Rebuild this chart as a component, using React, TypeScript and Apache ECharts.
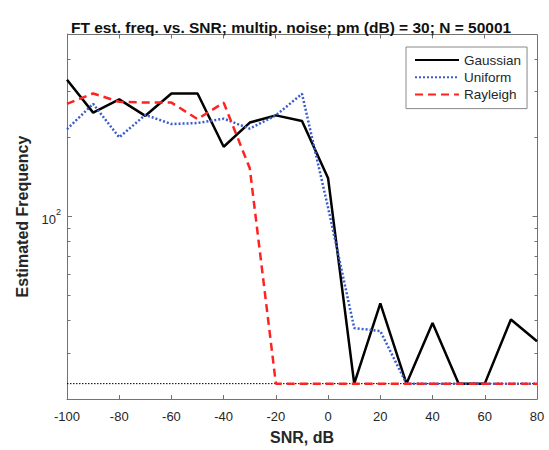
import React, { useEffect, useRef } from 'react';
import * as echarts from 'echarts';

const snr = [-100, -90, -80, -70, -60, -50, -40, -30, -20, -10, 0, 10, 20, 30, 40, 50, 60, 70, 80];
const gaussian = [334, 250, 281, 243, 296, 296, 185, 229, 244, 232, 140, 22.9, 46.5, 22.9, 39.1, 22.9, 22.9, 40.3, 33.3];
const uniform = [216, 270, 201, 245, 226, 228, 237, 217, 244, 295, 108, 37.4, 36.4, 22.9, 22.9, 22.9, 22.9, 22.9, 22.9];
const rayleigh = [270, 296, 275, 273, 273, 236, 273, 153, 22.9, 22.9, 22.9, 22.9, 22.9, 22.9, 22.9, 22.9, 22.9, 22.9, 22.9];
const trueFreq = 22.9;
const xTickValues = [-80, -60, -40, -20, 0, 20, 40, 60];
const yMajorTicks = [100];
const yMinorTicks = [30, 40, 50, 60, 70, 80, 90, 200, 300, 400];
const seriesNames = ['Gaussian', 'Uniform', 'Rayleigh'];
const titleText = 'FT est. freq. vs. SNR; multip. noise; pm (dB) = 30; N = 50001';

const FONT = '"Liberation Sans", Arial, sans-serif';
const AXIS = '#737373';
const TEXT = '#262626';

const snap = (v: number) => Math.round(v - 0.5) + 0.5;

export default function App() {
  const ref = useRef<HTMLDivElement>(null);
  useEffect(() => {
    if (!ref.current) return;
    const chart = echarts.init(ref.current, undefined, { renderer: 'svg' });
    // kind 0 = top x tick, 1 = right major y tick, 2 = minor y tick (both sides), 3 = top/right box edges
    const tickData: any[] = [
      ...xTickValues.map((x) => [x, trueFreq, 0]),
      ...yMajorTicks.map((v) => [snr[0], v, 1]),
      ...yMinorTicks.map((v) => [snr[0], v, 2]),
      [snr[0], trueFreq, 3],
    ];
    const option: any = {
      animation: false,
      backgroundColor: '#ffffff',
      title: {
        text: titleText,
        left: 66,
        top: 14,
        textStyle: { fontFamily: FONT, fontSize: 15.5, fontWeight: 'bold', color: '#111' },
      },
      grid: { left: 67, right: 12, top: 34, bottom: 47, containLabel: false },
      legend: {
        data: seriesNames,
        orient: 'vertical',
        left: 406,
        top: 47,
        itemWidth: 44,
        itemHeight: 14,
        itemGap: 3.3,
        padding: [6, 6, 7, 8],
        backgroundColor: '#ffffff',
        borderColor: '#888',
        borderWidth: 1,
        borderRadius: 0,
        itemStyle: { opacity: 0, borderWidth: 0 },
        textStyle: { fontFamily: FONT, fontSize: 13.5, color: TEXT },
      },
      xAxis: {
        type: 'value',
        min: -100,
        max: 80,
        interval: 20,
        position: 'bottom',
        axisLine: { show: true, onZero: false, lineStyle: { color: AXIS, width: 1 } },
        splitLine: { show: false },
        axisTick: { show: true, inside: true, length: 4, lineStyle: { color: AXIS } },
        axisLabel: { fontFamily: FONT, fontSize: 13, color: TEXT, margin: 11 },
        name: 'SNR, dB',
        nameLocation: 'middle',
        nameGap: 30,
        nameTextStyle: { fontFamily: FONT, fontSize: 16, fontWeight: 'bold', color: TEXT },
      },
      yAxis: {
        type: 'log',
        logBase: 10,
        min: 20,
        max: 500,
        position: 'left',
        axisLine: { show: true, onZero: false, lineStyle: { color: AXIS, width: 1 } },
        splitLine: { show: false },
        axisTick: { show: true, inside: true, length: 5, lineStyle: { color: AXIS } },
        axisLabel: {
          margin: 6,
          formatter: (v: number) => (Math.abs(Math.log10(v) - 2) < 1e-6 ? '{a|10}{b|2}' : ''),
          rich: {
            a: { fontFamily: FONT, fontSize: 13, color: TEXT, lineHeight: 18, verticalAlign: 'bottom' },
            b: { fontFamily: FONT, fontSize: 9, color: TEXT, verticalAlign: 'top', lineHeight: 18 },
          },
        },
        name: 'Estimated Frequency',
        nameLocation: 'middle',
        nameGap: 34,
        nameTextStyle: { fontFamily: FONT, fontSize: 16, fontWeight: 'bold', color: TEXT },
      },
      series: [
        {
          name: 'trueLine',
          type: 'line',
          data: [[snr[0], trueFreq], [snr[snr.length - 1], trueFreq]],
          symbol: 'none',
          silent: true,
          lineStyle: { color: '#000', width: 1, type: [1.5, 1.5] },
          z: 1,
        },
        {
          name: 'ticks',
          type: 'custom',
          silent: true,
          clip: false,
          data: tickData,
          renderItem: (params: any, api: any) => {
            const cs = params.coordSys;
            const kind = api.value(2);
            const pt = api.coord([api.value(0), api.value(1)]);
            const st = { stroke: AXIS, lineWidth: 1 };
            const left = snap(cs.x);
            const right = snap(cs.x + cs.width);
            const top = snap(cs.y);
            const bottom = snap(cs.y + cs.height);
            if (kind === 3) {
              return {
                type: 'polyline',
                shape: { points: [[left, top], [right, top], [right, bottom]] },
                style: { stroke: AXIS, lineWidth: 1, fill: null },
              };
            }
            if (kind === 0) {
              const x = snap(pt[0]);
              return { type: 'line', shape: { x1: x, y1: top, x2: x, y2: top + 4 }, style: st };
            }
            const y = snap(pt[1]);
            const len = kind === 1 ? 5 : 3;
            const children: any[] = [
              { type: 'line', shape: { x1: right, y1: y, x2: right - len, y2: y }, style: st },
            ];
            if (kind === 2) {
              children.push({ type: 'line', shape: { x1: left, y1: y, x2: left + len, y2: y }, style: st });
            }
            return { type: 'group', children };
          },
          z: 2,
        },
        {
          name: 'Gaussian',
          type: 'line',
          data: snr.map((x, i) => [x, gaussian[i]]),
          symbol: 'none',
          lineStyle: { color: '#000000', width: 2.5, type: 'solid' },
          itemStyle: { color: '#000000' },
          z: 3,
        },
        {
          name: 'Uniform',
          type: 'line',
          data: snr.map((x, i) => [x, uniform[i]]),
          symbol: 'none',
          lineStyle: { color: '#3a5ccc', width: 2.5, type: [2, 2] },
          itemStyle: { color: '#3a5ccc' },
          z: 4,
        },
        {
          name: 'Rayleigh',
          type: 'line',
          data: snr.map((x, i) => [x, rayleigh[i]]),
          symbol: 'none',
          lineStyle: { color: '#ff2222', width: 2.5, type: [8, 5] },
          itemStyle: { color: '#ff2222' },
          z: 5,
        },
      ],
    };
    chart.setOption(option);
    return () => chart.dispose();
  }, []);
  return (
    <div
      ref={ref}
      style={{ position: 'fixed', left: 0, top: 0, width: 549, height: 450, background: '#fff' }}
    />
  );
}
